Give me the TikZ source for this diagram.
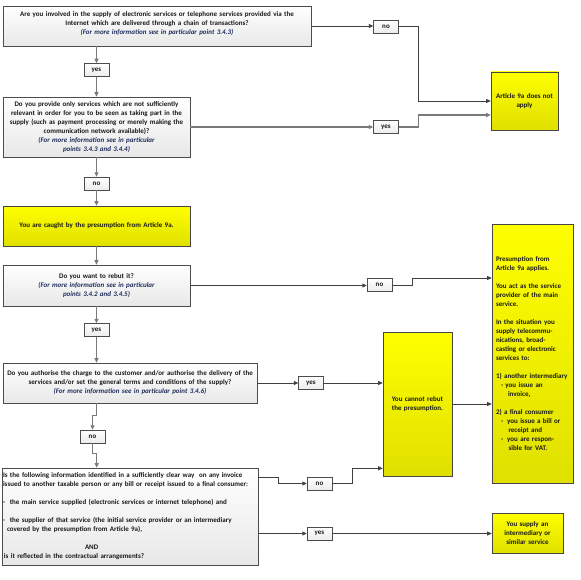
\documentclass[tikz,border=0pt]{standalone}
\usepackage{fontspec}
\setmainfont{Carlito}
\usetikzlibrary{arrows.meta,shadows}
\definecolor{notecol}{HTML}{1F2D5C}
\definecolor{linedk}{HTML}{404040}
\definecolor{linegr}{HTML}{7A7A7A}
\definecolor{ylw}{HTML}{FFFF00}
\definecolor{ylwb}{HTML}{E0E000}
\newcommand{\noteit}[1]{{\itshape\color{notecol}#1}}
\begin{document}
\begin{tikzpicture}[x=1pt,y=-1pt,
  every node/.style={font=\bfseries\fontsize{7}{9}\selectfont, inner sep=2pt, text=black!90},
  qbox/.style={draw=gray!60!black, line width=0.6pt, top color=white, bottom color=gray!18,
    drop shadow={shadow xshift=0.8pt,shadow yshift=-0.8pt,opacity=0.3}, align=center},
  ybox/.style={draw=gray!55!black, line width=0.6pt, top color=ylw, bottom color=ylwb,
    drop shadow={shadow xshift=0.8pt,shadow yshift=-0.8pt,opacity=0.3}, align=center},
  lbl/.style={draw=gray!60!black, line width=0.5pt, top color=white, bottom color=gray!15,
    minimum width=25pt, minimum height=13pt, inner sep=0pt},
  arr/.style={draw=linedk, line width=0.7pt, -{Triangle[length=4.5pt,width=4pt]}},
  garr/.style={draw=linegr, line width=1.1pt, -{Triangle[length=4.5pt,width=4pt]}},
]
\fill[white] (0,0) rectangle (580,580);
\useasboundingbox (0,0) rectangle (580,580);

% question boxes
\node[qbox, text width=304pt, minimum height=40pt] (b1) at (157,26)
  {Are you involved in the supply of electronic services or telephone services provided via the\\
   Internet which are delivered through a chain of transactions?\\
   \noteit{(For more information see in particular point 3.4.3)}\\[-3pt]\mbox{}};
\node[qbox, text width=183pt, minimum height=60pt] (b2) at (96.5,127)
  {Do you provide only services which are not sufficiently\\
   relevant in order for you to be seen as taking part in the\\
   supply (such as payment processing or merely making the\\
   communication network available)?\\
   \noteit{(For more information see in particular}\\
   \noteit{points 3.4.3 and 3.4.4)}};
\node[ybox, text width=183pt, minimum height=40pt] (b3) at (96.5,226)
  {You are caught by the presumption from Article 9a.};
\node[qbox, text width=183pt, minimum height=41pt] (b4) at (96.5,285.5)
  {Do you want to rebut it?\\
   \noteit{(For more information see in particular}\\
   \noteit{points 3.4.2 and 3.4.5)}};
\node[qbox, text width=250pt, minimum height=40pt] (b5) at (130,383)
  {Do you authorise the charge to the customer and/or authorise the delivery of the\\
   services and/or set the general terms and conditions of the supply?\\
   \noteit{(For more information see in particular point 3.4.6)}};
\node[qbox, align=left, text width=254pt, inner xsep=1pt, minimum height=97pt] (b6) at (130,516.5)
  {Is the following information identified in a sufficiently clear way\ \ on any invoice\\
   issued to another taxable person or any bill or receipt issued to a final consumer:\\[9pt]
   -\ \ the main service supplied (electronic services or internet telephone) and\\[9pt]
   -\ \ the supplier of that service (the initial service provider or an intermediary\\
   \hspace*{4pt}covered by the presumption from Article 9a),\\[9pt]
   \hspace*{82pt}AND\\
   \hspace*{1pt}is it reflected in the contractual arrangements?};

% result boxes
\node[ybox, text width=63pt, minimum height=58pt] (art) at (524.5,101)
  {Article 9a does not\\ apply};
\node[ybox, align=left, text width=73pt, minimum height=259pt, inner xsep=4pt] (big) at (532.5,353.5)
  {Presumption from\\
   Article 9a applies.\\[9pt]
   You act as the service\\
   provider of the main\\
   service.\\[9pt]
   In the situation you\\
   supply telecommu-\\
   nications, broad-\\
   casting or electronic\\
   services to:\\[9pt]
   1) another intermediary\\
   \hspace*{5pt}- you issue an\\
   \hspace*{12pt}invoice,\\[9pt]
   2) a final consumer\\
   \hspace*{5pt}-\hspace{4pt}you issue a bill or\\
   \hspace*{12.5pt}receipt and\\
   \hspace*{5pt}-\hspace{4pt}you are respon-\\
   \hspace*{12.5pt}sible for VAT.};
\node[ybox, text width=65pt, minimum height=144pt] (mid) at (417.5,404)
  {You cannot rebut\\ the presumption.};
\node[ybox, text width=67pt, minimum height=40pt] (sup) at (527.5,533)
  {You supply an\\ intermediary or\\ similar service};

% yes / no labels
\node[lbl] (yes1) at (96.5,70) {yes};
\node[lbl] (no1) at (386,26.5) {no};
\node[lbl] (yes2) at (386,127) {yes};
\node[lbl] (no2) at (96.5,183.5) {no};
\node[lbl] (no3) at (379.5,285) {no};
\node[lbl] (yes3) at (96.5,330) {yes};
\node[lbl] (yes4) at (311,383) {yes};
\node[lbl] (no4) at (92.5,436.5) {no};
\node[lbl] (no5) at (319.5,483.5) {no};
\node[lbl] (yes5) at (319.5,533.5) {yes};

% connectors
\draw[garr] (yes1.north |- b1.south) -- (yes1.north);
\draw[garr] (yes1.south) -- (yes1.south |- b2.north);
\draw[arr] (b1.east) -- (b1.east -| no1.west);
\draw[arr] (no1.east) -- ++(20,0) |- (art.west);
\draw[garr] (b2.east) -- (b2.east -| yes2.west);
\draw[garr] (yes2.east) -- ++(20,0) |- ([yshift=-14pt]art.west);
\draw[garr] (no2.north |- b2.south) -- (no2.north);
\draw[garr] (no2.south) -- (no2.south |- b3.north);
\draw[garr] (b3.south) -- (b4.north);
\draw[arr] (b4.east) -- (b4.east -| no3.west);
\draw[arr] (no3.east) -- ++(20,0) |- ([yshift=75.5pt]big.west);
\draw[garr] (yes3.north |- b4.south) -- (yes3.north);
\draw[garr] (yes3.south) -- (yes3.south |- b5.north);
\draw[arr] (b5.east) -- (b5.east -| yes4.west);
\draw[arr] (yes4.east) -- (yes4.east -| mid.west);
\draw[arr] (mid.east) -- (mid.east -| big.west);
\draw[garr] ([xshift=94pt]b5.south west) -- ++(0,12) -| (no4.north);
\draw[garr] (no4.south) -- ++(0,10) -| ([xshift=95pt]b6.north west);
\draw[arr] ([yshift=-10pt]b6.north east) -- ++(20,0) |- (no5.west);
\draw[arr] (no5.east) -- ++(20,0) |- ([yshift=8pt]mid.south west);
\draw[arr] (yes5.west -| b6.east) -- (yes5.west);
\draw[arr] (yes5.east) -- (yes5.east -| sup.west);
\end{tikzpicture}
\end{document}
